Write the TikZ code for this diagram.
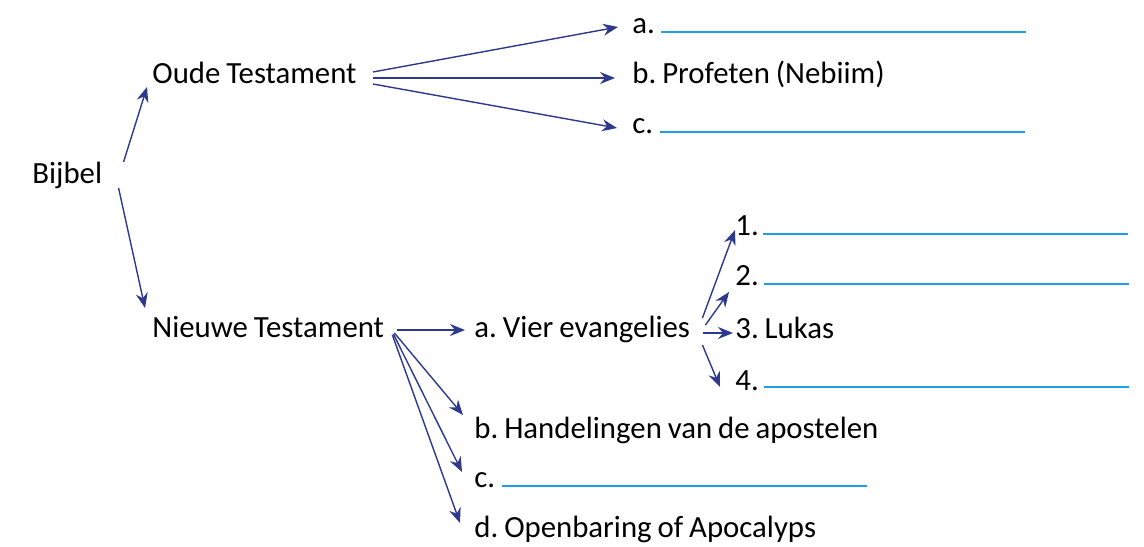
\documentclass[tikz,border=0pt]{standalone}
\usepackage{fontspec}
\setmainfont{Carlito}[WordSpace=0.85]
\usetikzlibrary{arrows.meta}
\definecolor{pijlblauw}{RGB}{44,57,140}
\definecolor{lijnblauw}{RGB}{30,160,225}

\begin{document}
\begin{tikzpicture}[
    x=0.5pt, y=-0.5pt,
    every node/.style={inner sep=0pt, anchor=base west,
                       font=\fontsize{15.4}{18}\selectfont\frenchspacing},
    pijl/.style={draw=pijlblauw, line width=0.7pt,
                 -{Stealth[length=7.5pt, width=6pt, inset=2.5pt]}},
    dikpijl/.style={pijl, line width=1.1pt},
    invul/.style={draw=lijnblauw, line width=0.6pt}]

\useasboundingbox (0,0) rectangle (1144,546);

\node (bijbel) at (32,183) {Bijbel};
\node (ot) at (152,83) {Oude Testament};
\node (nt) at (152,337) {Nieuwe Testament};

\node (ota) at (632,33) {a.};
\node (otb) at (632,83) {b. Profeten (Nebiim)};
\node (otc) at (632,133) {c.};

\node (nta) at (474,337) {a. Vier evangelies};
\node (ntb) at (474,438) {b. Handelingen van de apostelen};
\node (ntc) at (474,487) {c.};
\node (ntd) at (474,537) {d. Openbaring of Apocalyps};

\node (ev1) at (735,235) {1.};
\node (ev2) at (735,285) {2.};
\node (ev3) at (735,338) {3. Lukas};
\node (ev4) at (735,390) {4.};

\draw[pijl] ([shift={(21,-21)}]bijbel.base east) -- ([shift={(-5,4)}]ot.base west);
\draw[pijl] ([shift={(16,5)}]bijbel.base east) -- ([shift={(-7,-29)}]nt.base west);

\draw[pijl] ([shift={(16,-11)}]ot.base east) -- ([shift={(-14,-6)}]ota.base west);
\draw[pijl] ([shift={(16,-5)}]ot.base east) -- ([shift={(-17,-5)}]otb.base west);
\draw[pijl] ([shift={(16,1)}]ot.base east) -- ([shift={(-15,-5)}]otc.base west);

\draw[dikpijl] ([shift={(13,-7)}]nt.base east) -- ([shift={(-9,-7)}]nta.base west);
\draw[pijl] ([shift={(10,-4)}]nt.base east) -- ([shift={(-11,-23)}]ntb.base west);
\draw[pijl] ([shift={(9,-3)}]nt.base east) -- ([shift={(-12,-15)}]ntc.base west);
\draw[pijl] ([shift={(8,-2)}]nt.base east) -- ([shift={(-14,-14)}]ntd.base west);

\draw[pijl] ([shift={(12,-19)}]nta.base east) -- ([shift={(0,-5)}]ev1.base west);
\draw[pijl] ([shift={(15,-12)}]nta.base east) -- ([shift={(-6,7)}]ev2.base west);
\draw[pijl] ([shift={(13,-4)}]nta.base east) -- ([shift={(-2,-5)}]ev3.base west);
\draw[pijl] ([shift={(12,8)}]nta.base east) -- ([shift={(-15,-3)}]ev4.base west);

\draw[invul] ([shift={(6,-1)}]ota.base east) -- ++(365,0);
\draw[invul] ([shift={(6,-1)}]otc.base east) -- ++(365,0);
\draw[invul] ([shift={(6,-1)}]ntc.base east) -- ++(365,0);
\draw[invul] ([shift={(4,-1)}]ev1.base east) -- ++(365,0);
\draw[invul] ([shift={(5,-1)}]ev2.base east) -- ++(365,0);
\draw[invul] ([shift={(5,-3)}]ev4.base east) -- ++(365,0);

\end{tikzpicture}
\end{document}
